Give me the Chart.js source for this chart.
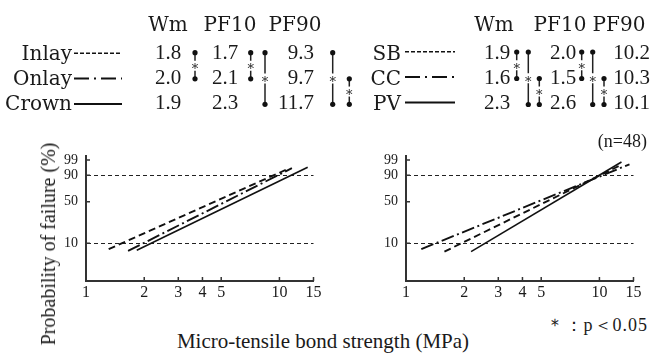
<!DOCTYPE html>
<html>
<head>
<meta charset="utf-8">
<title>Weibull plot</title>
<script src="https://cdn.jsdelivr.net/npm/chart.js"></script>
<style>
  body { margin: 0; width: 654px; height: 354px; background: #fff; position: relative; overflow: hidden;
         font-family: 'Liberation Serif', serif; color: #1a1a1a; }
  canvas { position: absolute; }
  .t { position: absolute; white-space: nowrap; line-height: 1; }
  .word { font-family: 'DejaVu Serif', serif; }
  .num { font-family: 'Liberation Serif', serif; }
  #deco { position: absolute; left: 0; top: 0; will-change: transform; }
</style>
</head>
<body>
<canvas id="left" width="330" height="170" style="left:0;top:140px"></canvas>
<canvas id="right" width="324" height="170" style="left:330px;top:140px"></canvas>
<svg id="deco" width="654" height="140"></svg>
<script>
// ---- data ----
var xTicks = [1, 2, 3, 4, 5, 10, 15];
var yTicks = [10, 50, 90, 99];
var yGrid = [10, 90];
var columns = ['Wm', 'PF10', 'PF90'];

var leftNames = ['Inlay', 'Onlay', 'Crown'];
var leftWm = [1.8, 2.0, 1.9];
var leftPF10 = [1.7, 2.1, 2.3];
var leftPF90 = [9.3, 9.7, 11.7];

var rightNames = ['SB', 'CC', 'PV'];
var rightWm = [1.9, 1.6, 2.3];
var rightPF10 = [2.0, 1.5, 2.6];
var rightPF90 = [10.2, 10.3, 10.1];

// fitted lines: start / end (MPa, % failure)
var inlayX = [1.31, 11.0], inlayP = [7.8, 95.2];
var onlayX = [1.65, 11.6], onlayP = [7.2, 95.8];
var crownX = [1.83, 14.0], crownP = [7.4, 96.3];
var sbX = [1.58, 12.7], sbP = [7.0, 97.1];
var ccX = [1.2, 14.3], ccP = [7.8, 97.7];
var pvX = [2.17, 13.0], pvP = [7.0, 98.5];

// significant pairs: [column, rowA, rowB]
var leftSig = [['Wm', 0, 1], ['PF10', 0, 1], ['PF10', 0, 2], ['PF90', 0, 2], ['PF90', 1, 2]];
var rightSig = [['Wm', 0, 1], ['Wm', 0, 2], ['Wm', 1, 2], ['PF10', 0, 1], ['PF10', 0, 2], ['PF10', 1, 2]];

// weibull probability axis
function weib(p) { return Math.log(-Math.log(1 - p / 100)); }

var styles = [
  {dash: [7, 4], width: 1.9, legend: '4 2', lw: 1.5},
  {dash: [13, 3.5, 2, 3.5], width: 1.9, legend: '15 5 2 5', lw: 2},
  {dash: [], width: 1.6, legend: '', lw: 1.8}
];

var inTicks = {
  id: 'inTicks',
  afterDraw: function (chart) {
    var ctx = chart.ctx, a = chart.chartArea, xs = chart.scales.x, ys = chart.scales.y;
    ctx.save();
    ctx.strokeStyle = '#333';
    ctx.lineWidth = 1.5;
    ctx.beginPath();
    xs.ticks.forEach(function (t) {
      var px = xs.getPixelForValue(t.value);
      ctx.moveTo(px, a.bottom); ctx.lineTo(px, a.bottom - 4);
    });
    ys.ticks.forEach(function (t) {
      var py = ys.getPixelForValue(t.value);
      ctx.moveTo(a.left, py); ctx.lineTo(a.left + 4, py);
    });
    ctx.stroke();
    ctx.restore();
  }
};

function makeChart(id, xs, ps, axisW, padRight) {
  var datasets = xs.map(function (xv, i) {
    return {
      data: xv.map(function (x, j) { return {x: x, y: weib(ps[i][j])}; }),
      borderColor: '#111',
      borderWidth: styles[i].width,
      borderDash: styles[i].dash,
      pointRadius: 0,
      fill: false
    };
  });
  return new Chart(document.getElementById(id), {
    type: 'line',
    data: {datasets: datasets},
    options: {
      responsive: false,
      animation: false,
      layout: {padding: {left: 0, right: padRight, top: 13, bottom: 0}},
      plugins: {legend: {display: false}, tooltip: {enabled: false}},
      scales: {
        x: {
          type: 'logarithmic', min: 1, max: 15,
          afterBuildTicks: function (s) { s.ticks = xTicks.map(function (v) { return {value: v}; }); },
          afterFit: function (s) { s.height = 29; },
          grid: {display: false, drawTicks: false},
          border: {color: '#333', width: 2},
          ticks: {
            autoSkip: false, maxRotation: 0, padding: 2, color: '#1a1a1a',
            font: {family: 'Liberation Serif', size: 16},
            callback: function (v) { return String(v); }
          }
        },
        y: {
          type: 'linear', min: weib(1.9), max: weib(99.55),
          afterBuildTicks: function (s) { s.ticks = yTicks.map(function (p) { return {value: weib(p)}; }); },
          afterFit: function (s) { s.width = axisW; },
          grid: {
            drawTicks: false, lineWidth: 1,
            color: function (c) {
              return yGrid.indexOf(yTicks[c.index]) >= 0 ? '#222' : 'rgba(0,0,0,0)';
            }
          },
          border: {color: '#333', width: 2, dash: [4, 3]},
          ticks: {
            padding: 8, color: '#1a1a1a',
            font: {family: 'Liberation Serif', size: 14},
            callback: function (v, i) { return String(yTicks[i]); }
          }
        }
      }
    },
    plugins: [inTicks]
  });
}

makeChart('left', [inlayX, onlayX, crownX], [inlayP, onlayP, crownP], 86, 16.5);
makeChart('right', [sbX, ccX, pvX], [sbP, ccP, pvP], 76, 20.5);

// ---- text ----
function put(txt, x, base, size, align, cls, extra) {
  var d = document.createElement('div');
  d.className = 't ' + (cls || '');
  d.textContent = txt;
  d.style.fontSize = size + 'px';
  d.style.left = x + 'px';
  d.style.top = (base - 0.84 * size) + 'px';
  if (align === 'center') d.style.transform = 'translateX(-50%)';
  if (align === 'right') d.style.transform = 'translateX(-100%)';
  if (extra) Object.assign(d.style, extra);
  document.body.appendChild(d);
  return d;
}

var svg = document.getElementById('deco');
function svgEl(tag, attrs) {
  var e = document.createElementNS('http://www.w3.org/2000/svg', tag);
  for (var k in attrs) e.setAttribute(k, attrs[k]);
  svg.appendChild(e);
  return e;
}

function table(t) {
  var rows = [59.3, 84.5, 110];
  columns.forEach(function (c, i) { put(c, t.headX[i], 31, 20, 'center', 'word'); });
  t.names.forEach(function (n, r) {
    put(n, t.nameRight, rows[r], 20, 'right', 'word');
    var ly = rows[r] + t.lineDy;
    var attrs = {x1: t.lineX[0], x2: t.lineX[1], y1: ly, y2: ly, stroke: '#111', 'stroke-width': styles[r].lw};
    if (styles[r].legend) attrs['stroke-dasharray'] = styles[r].legend;
    svgEl('line', attrs);
    t.vals.forEach(function (arr, ci) {
      put(arr[r].toFixed(1), t.valX[ci], rows[r], 21, t.valAlign[ci], 'num');
    });
  });
  t.sig.forEach(function (s, k) {
    var x = t.sigX[k], y1 = t.dotY[s[1]], y2 = t.dotY[s[2]], mid = (y1 + y2) / 2;
    svgEl('line', {x1: x, x2: x, y1: y1, y2: mid - 5, stroke: '#222', 'stroke-width': 1.5});
    svgEl('line', {x1: x, x2: x, y1: mid + 5, y2: y2, stroke: '#222', 'stroke-width': 1.5});
    svgEl('circle', {cx: x, cy: y1, r: 2.6, fill: '#111'});
    svgEl('circle', {cx: x, cy: y2, r: 2.6, fill: '#111'});
    var st = svgEl('text', {x: x, y: mid + 7.5, 'text-anchor': 'middle', 'font-size': 13,
      'font-family': 'DejaVu Serif, serif', fill: '#222'});
    st.textContent = '*';
  });
}

table({
  names: leftNames, vals: [leftWm, leftPF10, leftPF90],
  headX: [168, 230, 295], nameRight: 72, lineX: [74, 122], lineDy: -6,
  valX: [168, 225, 314], valAlign: ['center', 'center', 'right'],
  sig: leftSig, sigX: [195, 250.7, 265, 332.7, 349.3], dotY: [52.7, 78.8, 104.3]
});
table({
  names: rightNames, vals: [rightWm, rightPF10, rightPF90],
  headX: [494, 560, 619], nameRight: 401, lineX: [405, 455], lineDy: -7.5,
  valX: [497, 563, 650], valAlign: ['center', 'center', 'right'],
  sig: rightSig, sigX: [516.7, 528.3, 539.3, 581.7, 592.7, 604], dotY: [52, 78.5, 104.5]
});

put('(n=48)', 647, 147.5, 18, 'right');
put('＊：p＜0.05', 648, 331, 18, 'right', '', {letterSpacing: '1px'});
put('Micro-tensile bond strength (MPa)', 323, 349, 21, 'center');
var yt = put('Probability of failure (%)', 48, 251, 20, '');
yt.style.left = '48px';
yt.style.top = '244px';
yt.style.transform = 'translate(-50%, -50%) rotate(-90deg)';
</script>
</body>
</html>
